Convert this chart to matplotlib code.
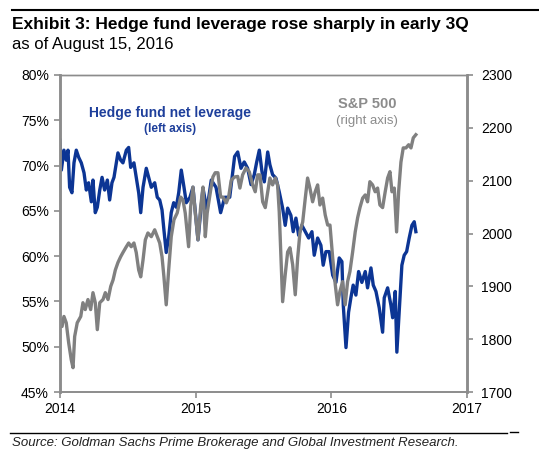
import matplotlib
matplotlib.use('Agg')
import matplotlib.pyplot as plt
from matplotlib.ticker import FuncFormatter, FixedLocator

plt.rcParams['font.family'] = ['Liberation Sans', 'DejaVu Sans']

# hedge fund net leverage (%), decimal year
lev_t = [2014.000, 2014.010, 2014.029, 2014.046, 2014.059, 2014.071, 2014.088, 2014.103, 2014.120, 2014.138,
         2014.157, 2014.177, 2014.194, 2014.211, 2014.231, 2014.243, 2014.260, 2014.275, 2014.293, 2014.310,
         2014.329, 2014.349, 2014.366, 2014.383, 2014.398, 2014.415, 2014.427, 2014.447, 2014.464, 2014.489,
         2014.506, 2014.521, 2014.545, 2014.562, 2014.580, 2014.595, 2014.612, 2014.636, 2014.654, 2014.673,
         2014.698, 2014.717, 2014.735, 2014.752, 2014.766, 2014.783, 2014.801, 2014.820, 2014.838, 2014.857,
         2014.875, 2014.894, 2014.914, 2014.931, 2014.958, 2014.980, 2015.017, 2015.054, 2015.083, 2015.115,
         2015.150, 2015.184, 2015.214, 2015.251, 2015.287, 2015.310, 2015.334, 2015.358, 2015.383, 2015.408,
         2015.432, 2015.450, 2015.469, 2015.489, 2015.506, 2015.531, 2015.547, 2015.567, 2015.592, 2015.616,
         2015.641, 2015.660, 2015.678, 2015.702, 2015.719, 2015.739, 2015.759, 2015.783, 2015.808, 2015.833,
         2015.857, 2015.874, 2015.899, 2015.923, 2015.940, 2015.960, 2015.985, 2016.010, 2016.034, 2016.058,
         2016.078, 2016.088, 2016.108, 2016.127, 2016.144, 2016.161, 2016.181, 2016.201, 2016.225, 2016.250,
         2016.267, 2016.292, 2016.309, 2016.329, 2016.353, 2016.378, 2016.390, 2016.415, 2016.439, 2016.452,
         2016.471, 2016.483, 2016.500, 2016.520, 2016.537, 2016.555, 2016.574, 2016.594, 2016.611, 2016.623]
lev = [72.8, 69.5, 71.7, 70.6, 71.7, 67.6, 67.0, 70.3, 71.7, 70.9,
       70.3, 69.2, 67.3, 68.1, 66.0, 68.4, 64.8, 65.4, 67.3, 68.7,
       67.3, 68.4, 66.2, 68.1, 68.7, 70.3, 71.4, 70.6, 70.3, 71.7,
       72.0, 69.8, 70.3, 68.7, 67.0, 64.8, 67.6, 69.7, 68.7, 67.6,
       68.1, 66.5, 66.2, 65.1, 62.9, 60.4, 62.1, 64.8, 65.9, 65.4,
       67.0, 69.5, 67.6, 65.9, 66.5, 67.6, 61.8, 67.5, 65.1, 68.4,
       67.6, 64.8, 66.5, 66.5, 71.0, 71.5, 69.7, 70.4, 69.7, 67.9,
       69.0, 70.4, 71.7, 69.3, 68.2, 71.5, 70.1, 69.0, 68.6, 67.1,
       65.3, 63.4, 65.3, 64.5, 62.7, 64.2, 62.3, 63.4, 62.7, 62.0,
       62.7, 60.1, 62.0, 61.2, 59.0, 60.5, 60.5, 57.9, 57.1, 59.8,
       59.4, 54.6, 49.9, 53.8, 55.4, 56.8, 55.7, 58.3, 57.1, 58.3,
       56.5, 58.7, 56.8, 56.1, 54.3, 51.6, 55.4, 56.5, 54.6, 53.2,
       56.1, 49.4, 53.8, 59.0, 60.1, 60.5, 62.0, 63.4, 63.8, 62.7]

# S&P 500 index level, decimal year
spx_t = [2014.000, 2014.015, 2014.029, 2014.046, 2014.064, 2014.083, 2014.096, 2014.108, 2014.127, 2014.153,
         2014.169, 2014.186, 2014.206, 2014.226, 2014.243, 2014.260, 2014.275, 2014.293, 2014.317, 2014.334,
         2014.354, 2014.374, 2014.391, 2014.408, 2014.427, 2014.447, 2014.464, 2014.489, 2014.506, 2014.525,
         2014.545, 2014.562, 2014.580, 2014.595, 2014.612, 2014.629, 2014.648, 2014.673, 2014.698, 2014.717,
         2014.735, 2014.752, 2014.766, 2014.783, 2014.801, 2014.820, 2014.840, 2014.864, 2014.889, 2014.906,
         2014.923, 2014.948, 2014.963, 2014.980, 2014.997, 2015.017, 2015.037, 2015.054, 2015.071, 2015.085,
         2015.111, 2015.127, 2015.144, 2015.164, 2015.184, 2015.201, 2015.226, 2015.243, 2015.262, 2015.287,
         2015.310, 2015.326, 2015.346, 2015.371, 2015.395, 2015.420, 2015.439, 2015.457, 2015.474, 2015.494,
         2015.513, 2015.531, 2015.547, 2015.567, 2015.587, 2015.604, 2015.616, 2015.629, 2015.641, 2015.660,
         2015.678, 2015.695, 2015.715, 2015.734, 2015.752, 2015.769, 2015.789, 2015.808, 2015.825, 2015.842,
         2015.862, 2015.881, 2015.899, 2015.916, 2015.936, 2015.955, 2015.973, 2015.990, 2016.010, 2016.029,
         2016.046, 2016.063, 2016.083, 2016.102, 2016.120, 2016.137, 2016.157, 2016.176, 2016.194, 2016.211,
         2016.231, 2016.250, 2016.267, 2016.284, 2016.304, 2016.323, 2016.341, 2016.358, 2016.378, 2016.397,
         2016.415, 2016.432, 2016.447, 2016.464, 2016.481, 2016.496, 2016.513, 2016.530, 2016.550, 2016.570,
         2016.587, 2016.604, 2016.623]
spx = [1837, 1824, 1843, 1831, 1793, 1761, 1746, 1805, 1831, 1843,
       1869, 1856, 1875, 1856, 1888, 1869, 1818, 1869, 1875, 1888,
       1875, 1900, 1912, 1931, 1945, 1956, 1964, 1975, 1982, 1975,
       1982, 1964, 1931, 1918, 1950, 1988, 2001, 1994, 2007, 1994,
       1982, 1956, 1918, 1865, 1931, 1994, 2026, 2039, 2069, 2064,
       2039, 1975, 2051, 2088, 2039, 1988, 2051, 2088, 1994, 2039,
       2083, 2107, 2115, 2115, 2069, 2069, 2058, 2069, 2101, 2107,
       2108, 2086, 2111, 2124, 2117, 2092, 2079, 2111, 2111, 2060,
       2049, 2079, 2105, 2092, 2105, 2092, 2041, 1954, 1871, 1922,
       1965, 1973, 1941, 1884, 1954, 2003, 2022, 2067, 2105, 2086,
       2060, 2079, 2092, 2054, 2067, 2035, 2016, 2016, 1954, 1903,
       1865, 1890, 1909, 1865, 1909, 1928, 1965, 2003, 2030, 2049,
       2067, 2073, 2060, 2098, 2092, 2079, 2086, 2054, 2049, 2079,
       2105, 2117, 2079, 2086, 2003, 2079, 2135, 2162, 2162, 2168,
       2162, 2181, 2187]

years = [2014, 2015, 2016, 2017]
left_ticks = [45, 50, 55, 60, 65, 70, 75, 80]
right_ticks = [1700, 1800, 1900, 2000, 2100, 2200, 2300]

BLUE = '#0c3594'
GRAY = '#808080'
AXC = '#8c8c8c'

fig = plt.figure(figsize=(5.39, 4.58), dpi=100)
ax = fig.add_axes([60 / 539, 1 - 392 / 458, 407 / 539, 317 / 458])
ax2 = ax.twinx()

ax.plot(lev_t, lev, color=BLUE, lw=2.4, solid_joinstyle='round')
ax2.plot(spx_t, spx, color=GRAY, lw=2.4, solid_joinstyle='round')

ax.set_xlim(2014, 2017)
ax.set_ylim(45, 80)
ax2.set_ylim(1700, 2300)
ax.xaxis.set_major_locator(FixedLocator(years))
ax.xaxis.set_major_formatter(FuncFormatter(lambda v, p: '%d' % v))
ax.yaxis.set_major_locator(FixedLocator(left_ticks))
ax.yaxis.set_major_formatter(FuncFormatter(lambda v, p: '%d%%' % v))
ax2.yaxis.set_major_locator(FixedLocator(right_ticks))

for a in (ax, ax2):
    for s in a.spines.values():
        s.set_color(AXC)
    a.spines['left'].set_linewidth(1.8)
    a.spines['right'].set_linewidth(1.8)
    a.spines['bottom'].set_linewidth(1.2)
    a.spines['top'].set_linewidth(1.0)
    a.tick_params(colors=AXC, labelcolor='black', labelsize=10, length=4, width=1.2, direction='out')
ax.tick_params(axis='x', pad=3)
ax.tick_params(axis='y', pad=4)
ax2.tick_params(axis='y', pad=6)

ax.text(0.27, 0.88, 'Hedge fund net leverage', transform=ax.transAxes, ha='center', va='center',
        color='#1e3f9b', fontsize=10, fontweight='bold')
ax.text(0.27, 0.83, '(left axis)', transform=ax.transAxes, ha='center', va='center',
        color='#1e3f9b', fontsize=8.5, fontweight='bold')
ax.text(0.755, 0.91, 'S&P 500', transform=ax.transAxes, ha='center', va='center',
        color='#8c8c8c', fontsize=10.5, fontweight='bold')
ax.text(0.755, 0.855, '(right axis)', transform=ax.transAxes, ha='center', va='center',
        color='#8c8c8c', fontsize=9.5)

fig.add_artist(plt.Line2D([12 / 539, 1.0], [1 - 10 / 458, 1 - 10 / 458], color='black', lw=1.5))
fig.text(12 / 539, 1 - 25 / 458, 'Exhibit 3: Hedge fund leverage rose sharply in early 3Q',
         fontsize=12.5, fontweight='bold', va='center', ha='left')
fig.text(12 / 539, 1 - 45 / 458, 'as of August 15, 2016', fontsize=12, va='center', ha='left')
fig.add_artist(plt.Line2D([10 / 539, 507 / 539], [1 - 433 / 458, 1 - 433 / 458], color='black', lw=1.0))
fig.add_artist(plt.Line2D([510 / 539, 518 / 539], [1 - 432 / 458, 1 - 432 / 458], color='black', lw=1.0))
fig.text(12 / 539, 1 - 443 / 458, 'Source: Goldman Sachs Prime Brokerage and Global Investment Research.',
         fontsize=9.5, style='italic', va='center', ha='left', color='#222222')

fig.savefig('out.png', dpi=100)
